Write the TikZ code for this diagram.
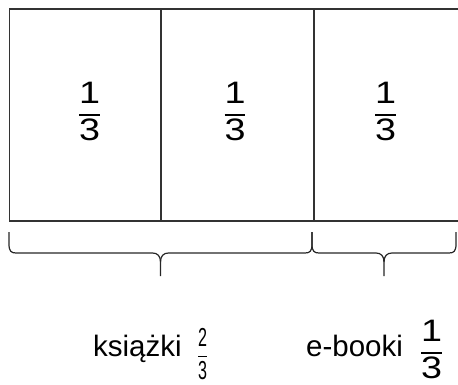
\documentclass[tikz,border=0pt]{standalone}
\usepackage{amsmath}
\usepackage{fontspec}
\setmainfont{Liberation Sans}
\usetikzlibrary{calc}

\newcommand{\ulamek}[2]{$\dfrac{\text{#1}}{\text{#2}}$}
\newcommand{\duzyulamek}[2]{\scalebox{1.3}[1.07]{\ulamek{#1}{#2}}}

\begin{document}
\begin{tikzpicture}[x=1pt,y=-1pt,
    cell/.style={draw=black!80, line width=1.1pt, minimum width=151.5pt, minimum height=212pt, inner sep=0pt},
    klamra/.style={draw=black!85, line width=1.2pt},
    liczba/.style={inner sep=0pt, font=\fontsize{29}{34}\selectfont},
    etykieta/.style={anchor=base west, inner sep=0pt, font=\fontsize{29.5}{34}\selectfont}]
            \useasboundingbox (0,0) rectangle (458,384);

            \node[cell] (c1) at (85,115) {};
            \node[cell, anchor=west] (c2) at (c1.east) {};
            \node[cell, anchor=west] (c3) at (c2.east) {};

            \node[liczba] (u1) at (89.5,111.5) {\duzyulamek{1}{3}};
            \node[liczba] (u2) at (235,111.5) {\duzyulamek{1}{3}};
            \node[liczba] (u3) at (385.5,111.5) {\duzyulamek{1}{3}};

            \coordinate (k1) at (9,232);
            \coordinate (k2) at (312,232);
            \coordinate (k3) at (456,232);
            \coordinate (m1) at ($(k1)!0.5!(k2)$);
            \coordinate (m2) at ($(k2)!0.5!(k3)$);

            \draw[klamra] (k1) -- ++(0,12) .. controls +(0,7) and +(-5,0) .. ++(7,9)
                -- ([shift={(-8,21)}]m1) .. controls +(5,0) and +(0,-6) .. ([shift={(0,30)}]m1) -- ([shift={(0,44)}]m1);
            \draw[klamra] ([shift={(0,30)}]m1) .. controls +(0,-6) and +(-5,0) .. ([shift={(8,21)}]m1)
                -- ([shift={(-7,21)}]k2) .. controls +(5,0) and +(0,7) .. ([shift={(0,12)}]k2) -- (k2);
            \draw[klamra] (k2) -- ++(0,12) .. controls +(0,7) and +(-5,0) .. ++(7,9)
                -- ([shift={(-8,21)}]m2) .. controls +(5,0) and +(0,-6) .. ([shift={(0,30)}]m2) -- ([shift={(0,44)}]m2);
            \draw[klamra] ([shift={(0,30)}]m2) .. controls +(0,-6) and +(-5,0) .. ([shift={(8,21)}]m2)
                -- ([shift={(-7,21)}]k3) .. controls +(5,0) and +(0,7) .. ([shift={(0,12)}]k3) -- (k3);

            \node[etykieta] (ksiazki) at (93,356) {książki};
            \node[liczba] (u4) at (202.5,354) {\scalebox{0.62}[1]{\fontsize{26}{30}\selectfont\ulamek{2}{3}}};
            \node[etykieta] (ebooki) at (306,356) {e-booki};
            \node[liczba] (u5) at (431.5,349.5) {\duzyulamek{1}{3}};
        \end{tikzpicture}
\end{document}
